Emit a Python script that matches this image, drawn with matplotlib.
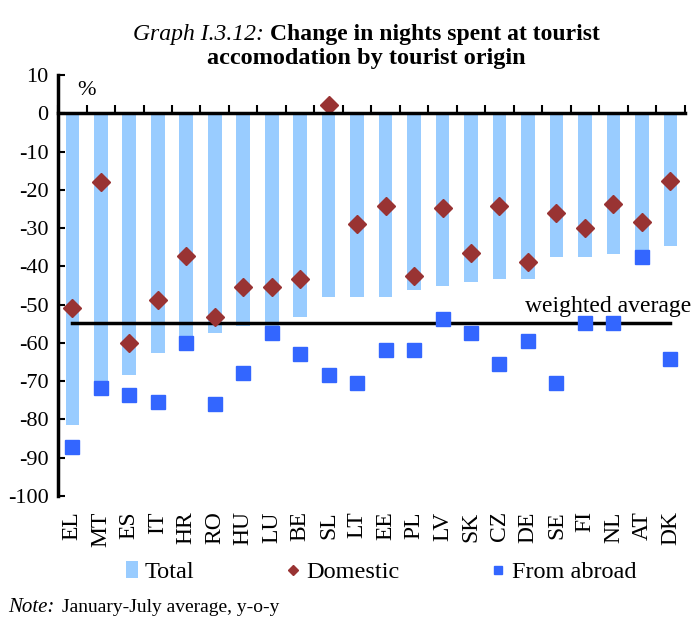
import matplotlib.pyplot as plt
import numpy as np

# data (%, y-o-y, January-July average)
countries = ["EL", "MT", "ES", "IT", "HR", "RO", "HU", "LU", "BE", "SL", "LT",
             "EE", "PL", "LV", "SK", "CZ", "DE", "SE", "FI", "NL", "AT", "DK"]
total = [-81.5, -71, -68.4, -62.6, -59, -57.5, -55.6, -56, -53.2, -48.1, -48.1,
         -48.1, -46.2, -45.2, -44, -43.4, -43.4, -37.5, -37.5, -36.8, -37, -34.6]
domestic = [-51, -17.9, -60, -48.8, -37.2, -53.3, -45.3, -45.3, -43.2, 2.1, -29,
            -24.2, -42.6, -24.7, -36.5, -24.2, -38.8, -26, -30.1, -23.8, -28.4, -17.8]
abroad = [-87.1, -71.9, -73.6, -75.4, -60.1, -76, -67.8, -57.3, -63, -68.4, -70.6,
          -61.9, -61.9, -53.8, -57.3, -65.4, -59.5, -70.6, -54.9, -54.9, -37.5, -64.3]
weighted_avg = -54.7

plt.rcParams["font.family"] = ["Liberation Serif", "DejaVu Serif"]
plt.rcParams["axes.unicode_minus"] = False

fig = plt.figure(figsize=(7, 6.42), dpi=100)
ax = fig.add_axes([0.083, 0.2274, 0.895, 0.6558])

x = np.arange(len(countries))
h_total = ax.bar(x, total, width=0.48, color="#99ccff", label="Total", zorder=1)
h_dom, = ax.plot(x, domestic, linestyle="none", marker="D", ms=9, color="#993333",
                 label="Domestic", zorder=3)
h_abr, = ax.plot(x, abroad, linestyle="none", marker="s", ms=10, color="#3366ff",
                 label="From abroad", zorder=3)

# weighted average line across the country range
ax.plot([x[0], x[-1]], [weighted_avg, weighted_avg], color="black", lw=2.5, zorder=2)
ax.text(x[-1] + 0.75, weighted_avg + 1.6, "weighted average", ha="right",
        va="bottom", fontsize=17)

ax.set_xlim(-0.5, len(countries) - 0.5)
ax.set_ylim(-100, 10)
ax.set_yticks(np.arange(-100, 11, 10))
ax.tick_params(axis="y", direction="in", length=5, width=1.5, labelsize=16, pad=7)

for side in ["top", "right"]:
    ax.spines[side].set_visible(False)
ax.spines["left"].set_linewidth(2.5)
ax.spines["bottom"].set_position(("data", 0))
ax.spines["bottom"].set_linewidth(2.5)
ax.spines["bottom"].set_zorder(4)

# ticks between categories on the zero line, pointing up
ax.set_xticks(np.arange(len(countries) + 1) - 0.5)
ax.set_xticklabels([])
ax.tick_params(axis="x", direction="in", length=6, width=1.5)

# country labels below the plot area
sec = ax.secondary_xaxis("bottom")
sec.set_xticks(x)
sec.set_xticklabels(countries, rotation=90, fontsize=17)
sec.tick_params(length=0, pad=11)
sec.spines["bottom"].set_visible(False)

ax.text(0.5, 6, "%", fontsize=16, ha="center", va="center")

# title: italic prefix followed by bold text, centred as a whole
renderer = fig.canvas.get_renderer()
t1 = fig.text(0, 0.947, "Graph I.3.12: ", fontsize=17, style="italic",
              ha="left", va="center")
t2 = fig.text(0, 0.947, "Change in nights spent at tourist", fontsize=17,
              fontweight="bold", ha="left", va="center")
w1 = t1.get_window_extent(renderer).width / fig.bbox.width
w2 = t2.get_window_extent(renderer).width / fig.bbox.width
start = 0.524 - (w1 + w2) / 2
t1.set_x(start)
t2.set_x(start + w1)
fig.text(0.524, 0.909, "accomodation by tourist origin", fontsize=17.5,
         fontweight="bold", ha="center", va="center")

fig.legend([h_total, h_dom, h_abr], ["Total", "Domestic", "From abroad"],
           loc="center", bbox_to_anchor=(0.544, 0.109), ncol=3, frameon=False,
           fontsize=17.5, handlelength=0.5, handletextpad=0.3, columnspacing=3.8,
           markerscale=0.6)

fig.text(0.012, 0.053, "Note:", fontsize=15, style="italic", ha="left", va="center")
fig.text(0.088, 0.053, "January-July average, y-o-y", fontsize=14,
         ha="left", va="center")

fig.savefig("out.png", dpi=100)
